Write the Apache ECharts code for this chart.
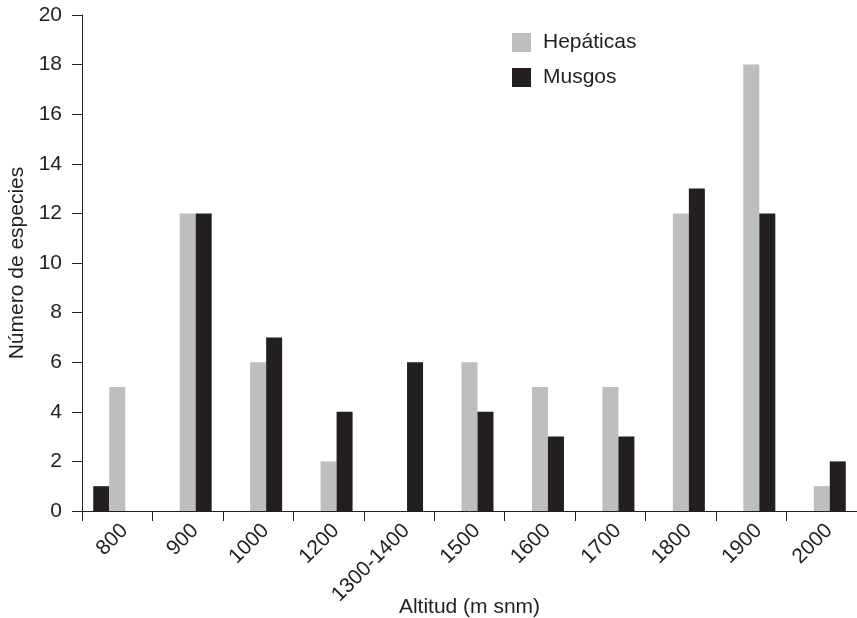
<!DOCTYPE html>
<html>
<head>
<meta charset="utf-8">
<script src="https://cdn.jsdelivr.net/npm/echarts@6/dist/echarts.min.js"></script>
<style>
  html, body { margin: 0; padding: 0; background: #fff; }
  #chart { width: 857px; height: 618px; }
</style>
</head>
<body>
<div id="chart"></div>
<script>
// Altitude bands (m snm)
const categories = ['800', '900', '1000', '1200', '1300-1400', '1500', '1600', '1700', '1800', '1900', '2000'];
// Species counts per band
const hepaticas = [5, 12, 6, 2, 0, 6, 5, 5, 12, 18, 1];
// Musgos drawn left of Hepáticas in the first band, right of it elsewhere
const musgosLeft = [1, null, null, null, null, null, null, null, null, null, null];
const musgosRight = [null, 12, 7, 4, 6, 4, 3, 3, 13, 12, 2];
const yTicks = { min: 0, max: 20, interval: 2 };

const ink = '#231f20';
const grey = '#bcbec0';
const font = 'Liberation Sans, Arial, sans-serif';
const fs = 21;

const chart = echarts.init(document.getElementById('chart'), null, { renderer: 'canvas' });

const barBase = { type: 'bar', barWidth: 16, barGap: '0%', animation: false };

chart.setOption({
  backgroundColor: '#ffffff',
  textStyle: { fontFamily: font, color: ink },
  grid: { left: 82, right: 0, top: 15, bottom: 107, containLabel: false, outerBoundsMode: 'none' },
  legend: {
    orient: 'vertical',
    left: 507,
    top: 27,
    padding: 5,
    itemWidth: 19,
    itemHeight: 19,
    itemGap: 14,
    icon: 'rect',
    data: ['Hepáticas', 'Musgos'],
    textStyle: { fontFamily: font, fontSize: fs, color: ink, padding: [0, 0, 0, 7] }
  },
  xAxis: {
    type: 'category',
    data: categories,
    boundaryGap: true,
    name: 'Altitud (m snm)',
    nameLocation: 'middle',
    nameMoveOverlap: false,
    nameGap: 86,
    nameTextStyle: { fontFamily: font, fontSize: fs, color: ink },
    axisLine: { lineStyle: { color: ink, width: 1 } },
    axisTick: { show: true, alignWithLabel: false, interval: 0, length: 10, lineStyle: { color: ink } },
    axisLabel: { interval: 0, rotate: 45, margin: 9, verticalAlign: 'top', fontFamily: font, fontSize: fs, color: ink }
  },
  yAxis: {
    type: 'value',
    min: yTicks.min,
    max: yTicks.max,
    interval: yTicks.interval,
    name: 'Número de especies',
    nameLocation: 'middle',
    nameMoveOverlap: false,
    nameGap: 54,
    nameTextStyle: { fontFamily: font, fontSize: fs, color: ink },
    axisLine: { show: true, lineStyle: { color: ink, width: 1 } },
    axisTick: { show: true, length: 10, lineStyle: { color: ink } },
    splitLine: { show: false },
    axisLabel: { margin: 20, fontFamily: font, fontSize: fs, color: ink }
  },
  series: [
    Object.assign({}, barBase, { name: 'Musgos', data: musgosLeft, itemStyle: { color: ink } }),
    Object.assign({}, barBase, { name: 'Hepáticas', data: hepaticas, itemStyle: { color: grey } }),
    Object.assign({}, barBase, { name: 'Musgos', data: musgosRight, itemStyle: { color: ink } })
  ]
});
</script>
</body>
</html>
